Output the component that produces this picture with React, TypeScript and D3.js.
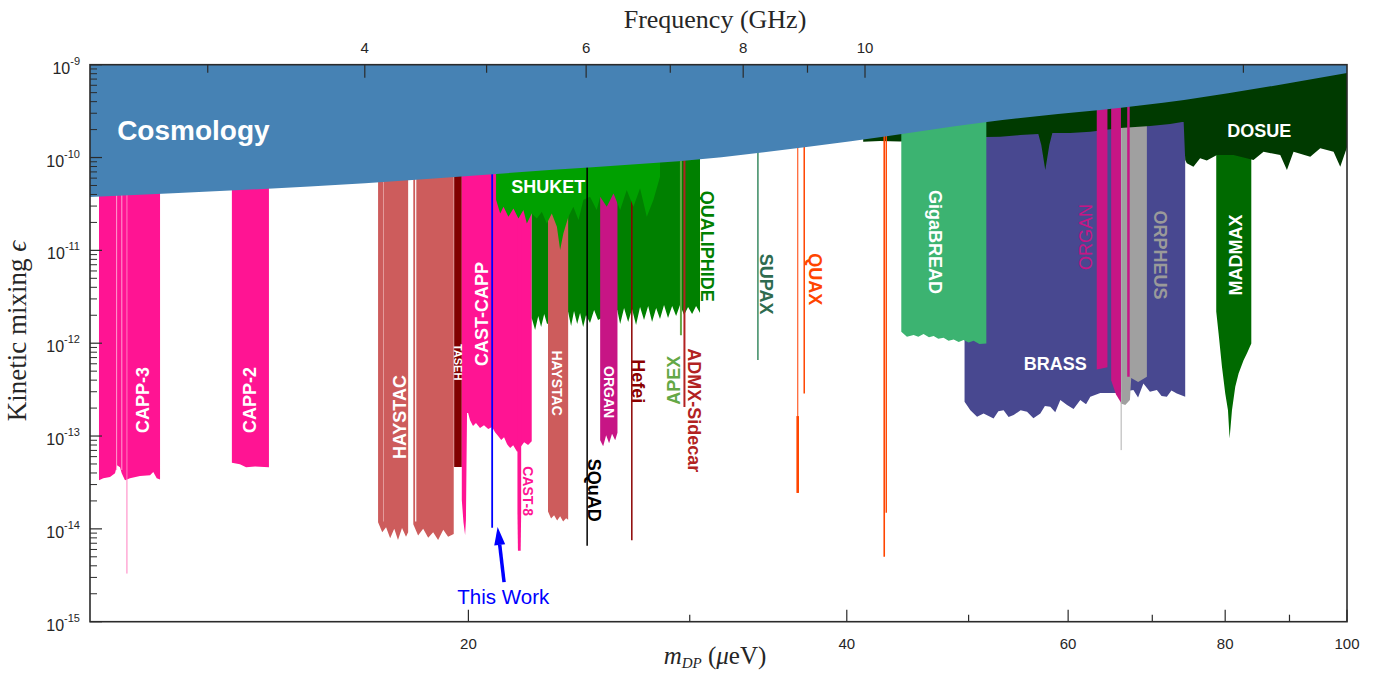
import React from "react";
import * as d3 from "d3";

const W = 1375;
const H = 677;
const PLOT = { left: 90, right: 1347, top: 64.7, bottom: 621.7 };
const GHZ_TO_UEV = 4.1357;
const SANS = "'Liberation Sans', Arial, sans-serif";
const SERIF = "'Liberation Serif', 'Times New Roman', serif";

// ---- axes ----
const massTicks = [20, 30, 40, 50, 60, 70, 80, 90, 100];
const massLabels = [20, 40, 60, 80, 100];
const freqTicks = [3, 4, 5, 6, 7, 8, 9, 10, 20];
const freqLabels = [4, 6, 8, 10];
const epsDecades = [-15, -14, -13, -12, -11, -10, -9];

// ---- cosmology bound ----
const cosmoMass = [10, 16.55, 23.2, 31.8, 40.3, 51.7, 74.2, 100];
const cosmoEps = [3.75e-11, 5.3e-11, 7.33e-11, 1.01e-10, 1.5e-10, 2.41e-10, 4.17e-10, 8.15e-10];

// ---- exclusion regions (mass in ueV, lower edge in epsilon) ----
const capp3Mass = [10.166, 10.247, 10.373, 10.469, 10.507, 10.565, 10.598, 10.662, 10.76, 10.959, 11.162, 11.229, 11.3, 11.369];
const capp3Eps = [3.35e-14, 3.52e-14, 3.63e-14, 3.98e-14, 4.85e-14, 4.6e-14, 3.98e-14, 3.35e-14, 3.52e-14, 3.7e-14, 3.79e-14, 4.11e-14, 3.52e-14, 3.4e-14];
const capp3Seams = [10.5, 10.6];
const capp3Spike = { m: 10.7, e: 3.3e-15 };

const capp2Mass = [12.968, 13.16, 13.31, 13.53, 13.879];
const capp2Eps = [5.14e-14, 4.98e-14, 4.62e-14, 4.7e-14, 4.62e-14];

const haystacAMass = [16.95, 17.08, 17.2, 17.33, 17.46, 17.58, 17.71, 17.84, 17.91];
const haystacAEps = [1.18e-14, 9.2e-15, 1.04e-14, 7.9e-15, 1.0e-14, 7.6e-15, 1.02e-14, 8.2e-15, 9.2e-15];
const haystacBMass = [18.08, 18.24, 18.41, 18.58, 18.75, 18.92, 19.1, 19.27, 19.47];
const haystacBEps = [1.12e-14, 8.5e-15, 1.0e-14, 8.0e-15, 9.2e-15, 7.6e-15, 9.8e-15, 8.2e-15, 8.8e-15];
const haystacSeams = [17.12, 18.16];

const tasehMass = [19.485, 19.76];
const tasehEps = [4.65e-14, 4.65e-14];

const castCappMass = [19.76, 19.82, 19.88, 19.91, 19.95, 19.99, 20.06, 20.17, 20.28, 20.43, 20.58, 20.74, 20.89, 21.0, 21.12, 21.24, 21.35, 21.47, 21.59, 21.71, 21.83, 21.87, 22.03, 22.15, 22.31, 22.46];
const castCappEps = [2.04e-14, 1.18e-14, 8.57e-15, 1.24e-14, 1.77e-13, 1.77e-13, 1.48e-13, 1.28e-13, 1.38e-13, 1.22e-13, 1.31e-13, 1.19e-13, 1.25e-13, 1.1e-13, 9.98e-14, 9.04e-14, 9.73e-14, 8.18e-14, 7.41e-14, 7.98e-14, 7.05e-14, 6.71e-14, 7.78e-14, 8.59e-14, 8.0e-14, 8.81e-14];

const cast8Mass = [21.88, 21.9, 22.01, 22.03];
const cast8Eps = [1.5e-14, 5.8e-15, 5.8e-15, 1.5e-14];

const qualiphideMass = [22.46, 22.6, 22.73, 22.85, 22.98, 23.1, 24.01, 24.14, 24.27, 24.41, 24.54, 24.68, 24.81, 24.99, 25.18, 25.36, 26.27, 26.41, 26.6, 26.8, 26.99, 27.19, 27.39, 27.59, 27.8, 28.0, 28.21, 28.41, 28.62, 28.83, 29.05, 29.26, 29.47, 29.69, 29.91, 30.13, 30.35, 30.57];
const qualiphideEps = [1.865e-12, 1.384e-12, 1.959e-12, 1.491e-12, 2.058e-12, 1.606e-12, 2.163e-12, 1.529e-12, 2.217e-12, 1.606e-12, 2.11e-12, 1.491e-12, 2.008e-12, 1.646e-12, 2.273e-12, 1.774e-12, 2.273e-12, 1.606e-12, 2.388e-12, 1.688e-12, 2.33e-12, 1.567e-12, 2.449e-12, 1.774e-12, 2.51e-12, 1.688e-12, 2.388e-12, 1.818e-12, 2.573e-12, 1.865e-12, 2.51e-12, 1.959e-12, 2.573e-12, 2.008e-12, 2.449e-12, 2.058e-12, 2.51e-12, 2.11e-12];

const haystac2Mass = [23.14, 23.27, 23.4, 23.53, 23.66, 23.79, 23.92, 24.01];
const haystac2Eps = [1.536e-14, 1.291e-14, 1.405e-14, 1.228e-14, 1.371e-14, 1.199e-14, 1.304e-14, 1.25e-14];

const organLMass = [25.46, 25.6, 25.74, 25.88, 26.02, 26.17, 26.28];
const organLEps = [9.03e-14, 7.78e-14, 1.02e-13, 8.38e-14, 1.056e-13, 9.03e-14, 1.083e-13];

const shuketMass = [21.04, 21.2, 21.33, 21.52, 21.72, 21.92, 22.12, 22.26, 22.46, 22.67, 22.88, 23.09, 23.3, 23.52, 23.66, 23.8, 24.02, 24.24, 24.47, 24.69, 24.99, 25.3, 25.46, 25.77, 26.09, 26.41, 26.73, 27.06, 27.39, 27.73, 28.07, 28.41];
const shuketEps = [3.5e-11, 2.5e-11, 2.95e-11, 2.3e-11, 2.83e-11, 2.21e-11, 2.72e-11, 1.95e-11, 2.5e-11, 2.21e-11, 2.61e-11, 1.95e-11, 2.5e-11, 1.8e-11, 1.01e-11, 1.52e-11, 2.3e-11, 2.95e-11, 2.12e-11, 3.5e-11, 3.78e-11, 2.72e-11, 3.78e-11, 2.95e-11, 4.11e-11, 2.72e-11, 4.47e-11, 2.95e-11, 4.66e-11, 2.3e-11, 3.5e-11, 6.21e-11];

const gigaMass = [44.2, 44.66, 45.21, 45.6, 46.04, 46.5, 46.9, 47.3, 47.76, 48.2, 48.65, 49.1, 49.54, 50.0, 50.46, 51.0, 51.65];
const gigaEps = [1.327e-12, 1.172e-12, 1.223e-12, 1.17e-12, 1.253e-12, 1.16e-12, 1.192e-12, 1.12e-12, 1.143e-12, 1.06e-12, 1.099e-12, 1.03e-12, 1.08e-12, 1.02e-12, 1.061e-12, 9.8e-13, 9.95e-13];

const brassMass = [49.63, 50.16, 50.78, 51.39, 52.34, 52.8, 53.31, 53.8, 54.3, 55.0, 55.65, 56.3, 57.02, 57.5, 58.07, 58.6, 59.15, 59.88, 60.6, 61.35, 62.0, 62.49, 63.64, 65.5, 67.62, 68.2, 68.87, 69.7, 70.59, 71.2, 71.89, 72.5, 73.22, 74.35];
const brassEps = [2.336e-13, 1.901e-13, 1.61e-13, 1.751e-13, 1.548e-13, 1.85e-13, 1.901e-13, 1.6e-13, 1.68e-13, 1.9e-13, 1.823e-13, 1.55e-13, 1.751e-13, 2.1e-13, 2.064e-13, 1.8e-13, 2.437e-13, 2.153e-13, 1.95e-13, 2.437e-13, 2.2e-13, 2.644e-13, 2.9e-13, 2.9e-13, 3.124e-13, 2.6e-13, 3.688e-13, 3.0e-13, 3.124e-13, 2.7e-13, 2.644e-13, 3.1e-13, 2.877e-13, 2.644e-13];

const orpheusMass = [66.09, 66.62, 67.19, 67.35, 68.21, 69.31];
const orpheusEps = [2.245e-13, 2.153e-13, 2.437e-13, 4.21e-13, 3.81e-13, 4.35e-13];
const orpheusSpike = { m: 66.12, e: 7.05e-14 };

const madmaxMass = [78.7, 79.04, 79.53, 80.01, 80.41, 80.65, 81.0, 81.49, 81.99, 82.74, 83.26, 83.92];
const madmaxEps = [2.2e-12, 1.275e-12, 5.57e-13, 2.877e-13, 1.901e-13, 9.42e-14, 1.901e-13, 3.39e-13, 4.73e-13, 6.57e-13, 7.77e-13, 9.95e-13];

const dosueMass = [41.22, 42.52, 44.11, 51.65, 52.99, 54.96, 56.81, 57.12, 57.54, 57.97, 58.29, 60.24, 62.49, 66.01, 69.73, 72.33, 73.94, 74.14, 74.35, 74.57, 75.48, 76.41, 77.35, 78.8, 81.23, 84.26, 85.82, 88.49, 89.58, 90.67, 93.49, 95.22, 97.57, 98.77, 100];
const dosueEps = [1.48e-10, 1.506e-10, 1.49e-10, 1.664e-10, 1.676e-10, 1.748e-10, 1.792e-10, 1.364e-10, 7.33e-11, 1.364e-10, 1.837e-10, 1.837e-10, 1.897e-10, 2.079e-10, 2.185e-10, 2.296e-10, 2.413e-10, 2.413e-10, 9.4e-11, 8.66e-11, 7.96e-11, 9.8e-11, 9.3e-11, 1.064e-10, 1.064e-10, 9.4e-11, 1.155e-10, 1.064e-10, 7.33e-11, 1.155e-10, 1.02e-10, 1.256e-10, 1.155e-10, 7.96e-11, 1.288e-10];

const organRMass = [63.23, 63.8, 64.48];
const organREps = [5.2e-13, 5.35e-13, 5.5e-13];
const organR2Mass = [64.92, 65.5, 66.09];
const organR2Eps = [4.0e-13, 2.8e-13, 2.3e-13];

// ---- narrow scans drawn as lines: mass, lower edge ----
const lineScans = [
  { name: "SQuAD", m: 24.86, e: 6.56e-15, c: "#000000", w: 1.5 },
  { name: "Hefei", m: 26.98, e: 7.55e-15, c: "#8b0000", w: 1.5 },
  { name: "APEX", m: 29.52, e: 1.22e-12, c: "#64a846", w: 2 },
  { name: "ADMX-Sidecar", m: 29.71, e: 2.05e-13, c: "#b22222", w: 2 },
  { name: "SUPAX", m: 33.99, e: 6.6e-13, c: "#3a8a62", w: 1.5 },
  { name: "QUAX a", m: 36.56, e: 2.44e-14, c: "#ff6a3a", w: 1.3 },
  { name: "QUAX b", m: 37.0, e: 2.88e-13, c: "#ff4500", w: 1.5 },
];
const quaxDeep = { m: 36.56, top: 1.64e-13, e: 2.44e-14 };
const lateLines = [
  { m: 42.84, e: 5.0e-15, c: "#ff4500", w: 1.6 },
  { m: 43.0, e: 1.49e-14, c: "#ff4500", w: 1.4 },
  { m: 67.01, e: 4.35e-13, c: "#c71585", w: 2.5 },
];
const thisWork = { m: 20.89, e: 1.03e-14 };
const arrowFrom = { m: 21.35, e: 2.67e-15 };
const arrowTo = { m: 21.1, e: 1.05e-14 };

// ---- text annotations ----
const labels = [
  { t: "CAPP-3", m: 11.0, e: 2.44e-13, r: -90, c: "#fff", s: 18, b: true },
  { t: "CAPP-2", m: 13.39, e: 2.44e-13, r: -90, c: "#fff", s: 18, b: true },
  { t: "HAYSTAC", m: 17.62, e: 1.6e-13, r: -90, c: "#fff", s: 18, b: true },
  { t: "TASEH", m: 19.61, e: 6.25e-13, r: 90, c: "#fff", s: 11, b: true },
  { t: "CAST-CAPP", m: 20.49, e: 2.06e-12, r: -90, c: "#fff", s: 18, b: true },
  { t: "CAST-8", m: 22.31, e: 2.55e-14, r: 90, c: "#ff1493", s: 14, b: true },
  { t: "HAYSTAC", m: 23.53, e: 3.72e-13, r: 90, c: "#fff", s: 14, b: true },
  { t: "SHUKET", m: 23.15, e: 4.93e-11, r: 0, c: "#fff", s: 18, b: true },
  { t: "SQuAD", m: 25.18, e: 2.61e-14, r: 90, c: "#000", s: 18, b: true },
  { t: "ORGAN", m: 25.88, e: 2.97e-13, r: 90, c: "#fff", s: 14, b: true },
  { t: "Hefei", m: 27.3, e: 3.9e-13, r: 90, c: "#8b0000", s: 18, b: true },
  { t: "APEX", m: 29.13, e: 4.0e-13, r: -90, c: "#64a846", s: 18, b: true },
  { t: "ADMX-Sidecar", m: 30.24, e: 1.9e-13, r: 90, c: "#b22222", s: 18, b: true },
  { t: "QUALIPHIDE", m: 30.98, e: 1.11e-11, r: 90, c: "#008000", s: 18, b: true },
  { t: "SUPAX", m: 34.51, e: 4.33e-12, r: 90, c: "#2e6b4f", s: 18, b: true },
  { t: "QUAX", m: 37.75, e: 4.9e-12, r: 90, c: "#ff4500", s: 18, b: true },
  { t: "GigaBREAD", m: 47.04, e: 1.23e-11, r: 90, c: "#fff", s: 18, b: true },
  { t: "BRASS", m: 58.61, e: 6.1e-13, r: 0, c: "#fff", s: 18, b: true },
  { t: "ORGAN", m: 61.92, e: 1.39e-11, r: -90, c: "#c71585", s: 18, b: false },
  { t: "ORPHEUS", m: 71.02, e: 8.9e-12, r: 90, c: "#9a9a9a", s: 18, b: true },
  { t: "MADMAX", m: 81.49, e: 8.9e-12, r: -90, c: "#fff", s: 18, b: true },
  { t: "DOSUE", m: 85.16, e: 1.94e-10, r: 0, c: "#fff", s: 18, b: true },
];

const x = d3.scaleLog().domain([10, 100]).range([PLOT.left, PLOT.right]);
const y = d3.scaleLog().domain([1e-15, 1e-9]).range([PLOT.bottom, PLOT.top]);

type Pt = { m: number; e: number };
const zip = (ms: number[], es: number[]): Pt[] => ms.map((m, i) => ({ m, e: es[i] }));

const bandArea = d3
  .area<Pt>()
  .x((d) => x(d.m))
  .y0((d) => y(d.e))
  .y1(y(1e-9));

const cosmoArea = d3
  .area<Pt>()
  .x((d) => x(d.m))
  .y0((d) => y(d.e))
  .y1(y(1e-9))
  .curve(d3.curveMonotoneX);

function Band({ ms, es, fill }: { ms: number[]; es: number[]; fill: string }) {
  return <path d={bandArea(zip(ms, es)) || ""} fill={fill} />;
}

function VLine({ m, e, top = 1e-9, c, w }: { m: number; e: number; top?: number; c: string; w: number }) {
  return <line x1={x(m)} x2={x(m)} y1={y(e)} y2={y(top)} stroke={c} strokeWidth={w} />;
}

export default function App() {
  const minorEps: number[] = [];
  epsDecades.slice(0, -1).forEach((d) => {
    for (let k = 2; k <= 9; k++) minorEps.push(k * Math.pow(10, d));
  });

  const ax = x(arrowFrom.m);
  const ay = y(arrowFrom.e);
  const bx = x(arrowTo.m);
  const by = y(arrowTo.e);
  const ang = Math.atan2(by - ay, bx - ax);
  const headLen = 18;
  const headW = 5.5;
  const hx = bx - headLen * Math.cos(ang);
  const hy = by - headLen * Math.sin(ang);
  const px = -Math.sin(ang) * headW;
  const py = Math.cos(ang) * headW;

  return (
    <svg
      width={W}
      height={H}
      style={{ position: "absolute", left: 0, top: 0, background: "#fff" }}
      fontFamily={SANS}
    >
      <defs>
        <clipPath id="plotClip">
          <rect x={PLOT.left} y={PLOT.top} width={PLOT.right - PLOT.left} height={PLOT.bottom - PLOT.top} />
        </clipPath>
      </defs>

      <g clipPath="url(#plotClip)">
        {/* left side: CAPP / HAYSTAC / TASEH / CAST */}
        <Band ms={capp3Mass} es={capp3Eps} fill="#ff1493" />
        {capp3Seams.map((m) => (
          <VLine key={m} m={m} e={4.3e-14} c="#ff9fd0" w={1} />
        ))}
        <VLine m={capp3Spike.m} e={capp3Spike.e} c="#ff7fc0" w={1} />
        <Band ms={capp2Mass} es={capp2Eps} fill="#ff1493" />
        <Band ms={haystacAMass} es={haystacAEps} fill="#cd5c5c" />
        <Band ms={haystacBMass} es={haystacBEps} fill="#cd5c5c" />
        <VLine m={haystacSeams[0]} e={1.2e-14} c="#e39a9a" w={1} />
        <VLine m={haystacSeams[1]} e={1.2e-14} c="#ffffff" w={1.2} />
        <Band ms={tasehMass} es={tasehEps} fill="#800000" />
        <Band ms={castCappMass} es={castCappEps} fill="#ff1493" />
        <Band ms={cast8Mass} es={cast8Eps} fill="#ff1493" />

        {/* 20-30 ueV */}
        <Band ms={qualiphideMass} es={qualiphideEps} fill="#008000" />
        <Band ms={haystac2Mass} es={haystac2Eps} fill="#cd5c5c" />
        <Band ms={organLMass} es={organLEps} fill="#c71585" />
        <VLine m={lineScans[1].m} e={lineScans[1].e} c={lineScans[1].c} w={lineScans[1].w} />
        <Band ms={shuketMass} es={shuketEps} fill="#00a000" />
        {lineScans
          .filter((l) => l.name !== "Hefei")
          .map((l) => (
            <VLine key={l.name} m={l.m} e={l.e} c={l.c} w={l.w} />
          ))}
        <VLine m={quaxDeep.m} e={quaxDeep.e} top={quaxDeep.top} c="#ff4500" w={2.6} />

        {/* high mass */}
        <Band ms={brassMass} es={brassEps} fill="#484890" />
        <Band ms={orpheusMass} es={orpheusEps} fill="#a0a0a0" />
        <VLine m={orpheusSpike.m} e={orpheusSpike.e} c="#b0b0b0" w={1} />
        <Band ms={madmaxMass} es={madmaxEps} fill="#006a00" />
        <Band ms={dosueMass} es={dosueEps} fill="#003a00" />
        <Band ms={organRMass} es={organREps} fill="#c71585" />
        <Band ms={organR2Mass} es={organR2Eps} fill="#c71585" />
        <Band ms={gigaMass} es={gigaEps} fill="#3cb371" />
        {lateLines.map((l) => (
          <VLine key={l.m} m={l.m} e={l.e} c={l.c} w={l.w} />
        ))}

        <VLine m={thisWork.m} e={thisWork.e} c="#0000ff" w={1.8} />

        <path d={cosmoArea(zip(cosmoMass, cosmoEps)) || ""} fill="#4682b4" />
      </g>

      {/* region labels */}
      <text x={x(10.51)} y={y(1.98e-10)} dy="0.35em" fill="#fff" fontSize={28} fontWeight="bold">
        Cosmology
      </text>
      {labels.map((l, i) => (
        <text
          key={i}
          transform={`translate(${x(l.m)},${y(l.e)}) rotate(${l.r})`}
          textAnchor="middle"
          dy="0.36em"
          fill={l.c}
          fontSize={l.s}
          fontWeight={l.b ? "bold" : "normal"}
        >
          {l.t}
        </text>
      ))}

      {/* This Work arrow */}
      <line x1={ax} y1={ay} x2={hx} y2={hy} stroke="#0000ff" strokeWidth={3.5} />
      <path d={`M${bx},${by}L${hx + px},${hy + py}L${hx - px},${hy - py}Z`} fill="#0000ff" />
      <text x={x(21.32)} y={y(1.88e-15)} dy="0.36em" textAnchor="middle" fill="#0000ff" fontSize={20.5}>
        This Work
      </text>

      {/* frame */}
      <rect
        x={PLOT.left}
        y={PLOT.top}
        width={PLOT.right - PLOT.left}
        height={PLOT.bottom - PLOT.top}
        fill="none"
        stroke="#2b2b2b"
        strokeWidth={1.6}
      />

      {/* bottom axis */}
      {massTicks.map((m) => {
        const major = massLabels.includes(m);
        return (
          <line key={m} x1={x(m)} x2={x(m)} y1={PLOT.bottom} y2={PLOT.bottom - (major ? 12 : 7)} stroke="#2b2b2b" strokeWidth={1.2} />
        );
      })}
      {massLabels.map((m) => (
        <text key={m} x={x(m)} y={PLOT.bottom + 22} dy="0.36em" textAnchor="middle" fontSize={15} fill="#262626">
          {m}
        </text>
      ))}

      {/* top axis (frequency) */}
      {freqTicks.map((f) => {
        const major = freqLabels.includes(f);
        return (
          <line
            key={f}
            x1={x(f * GHZ_TO_UEV)}
            x2={x(f * GHZ_TO_UEV)}
            y1={PLOT.top}
            y2={PLOT.top + (major ? 13 : 8)}
            stroke="#2b2b2b"
            strokeWidth={1.2}
          />
        );
      })}
      {freqLabels.map((f) => (
        <text key={f} x={x(f * GHZ_TO_UEV)} y={PLOT.top - 17} dy="0.36em" textAnchor="middle" fontSize={15} fill="#262626">
          {f}
        </text>
      ))}

      {/* left axis */}
      {epsDecades.map((d) => (
        <line key={d} x1={PLOT.left} x2={PLOT.left + 12} y1={y(Math.pow(10, d))} y2={y(Math.pow(10, d))} stroke="#2b2b2b" strokeWidth={1.2} />
      ))}
      {minorEps.map((v) => (
        <line key={v} x1={PLOT.left} x2={PLOT.left + 7} y1={y(v)} y2={y(v)} stroke="#2b2b2b" strokeWidth={1} />
      ))}
      {epsDecades.map((d) => (
        <text key={d} x={PLOT.left - 10} y={y(Math.pow(10, d)) + 9} textAnchor="end" fontSize={16} fill="#262626">
          10
          <tspan dy={-9} fontSize={11}>
            {d}
          </tspan>
        </text>
      ))}

      {/* axis titles */}
      <text x={715} y={28} textAnchor="middle" fontFamily={SERIF} fontSize={26} fill="#262626">
        Frequency (GHz)
      </text>
      <text transform="translate(26,331) rotate(-90)" textAnchor="middle" fontFamily={SERIF} fontSize={27} fill="#262626">
        Kinetic mixing <tspan fontStyle="italic">ϵ</tspan>
      </text>
      <text x={715} y={664} textAnchor="middle" fontFamily={SERIF} fontSize={25} fill="#262626">
        <tspan fontStyle="italic">m</tspan>
        <tspan fontStyle="italic" fontSize={15} dy={4}>
          DP
        </tspan>
        <tspan dy={-4}> (</tspan>
        <tspan fontStyle="italic">μ</tspan>
        <tspan>eV)</tspan>
      </text>
    </svg>
  );
}
